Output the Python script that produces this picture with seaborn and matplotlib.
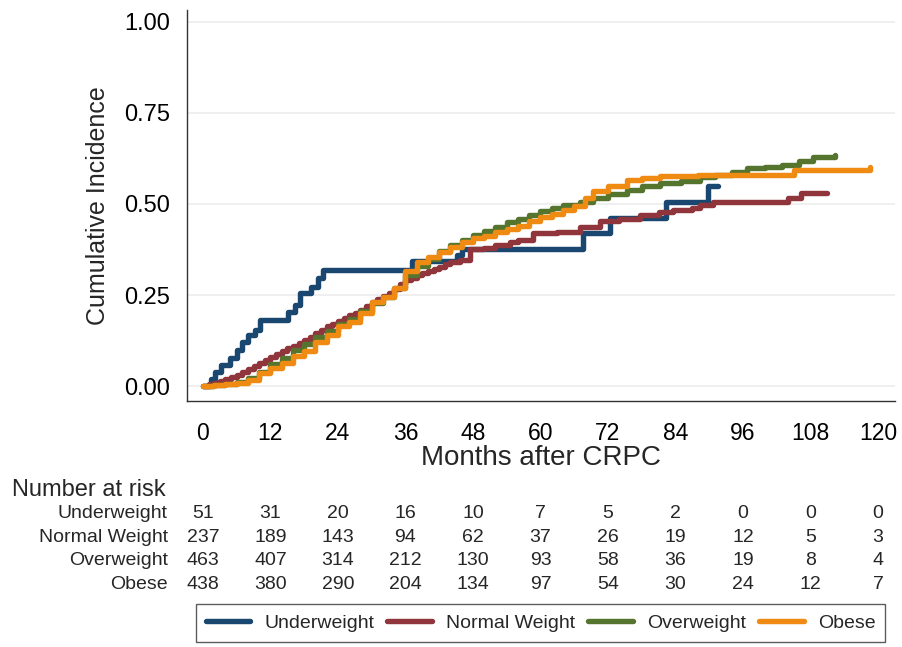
import numpy as np
import pandas as pd
import matplotlib
matplotlib.use("Agg")
import matplotlib.pyplot as plt
import matplotlib.transforms as mtransforms
import seaborn as sns

# Cumulative incidence step curves (months, value)
under_t = [0, 1.5, 2.1, 3.3, 4.8, 6.0, 6.9, 8.1, 9.2, 10.1, 15.2, 16.4, 17.2, 19.3, 20.5, 21.4,
           37.2, 45.2, 46.0, 67.6, 72.4, 82.4, 89.8, 91.5]
under_v = [0, 0.020, 0.039, 0.058, 0.076, 0.099, 0.122, 0.140, 0.154, 0.181, 0.204, 0.222, 0.255, 0.273, 0.296, 0.319,
           0.344, 0.360, 0.376, 0.421, 0.462, 0.506, 0.548, 0.548]

normal_t = [0, 1, 2, 3, 4, 5, 6, 7, 8, 9, 10, 11, 12, 13, 14, 15, 16, 17, 18, 19, 20, 21, 22, 23, 24,
            25, 26, 27, 28, 29, 30, 31, 32, 33, 34, 35, 36, 37, 38, 39, 40, 41, 42, 43, 44, 45.7, 47.5,
            50, 52, 54.6, 56, 58.7, 63, 67, 70.6, 74, 77.7, 81, 83.6, 87, 88.4, 90.7, 104, 106.4, 110.9]
normal_v = [0, 0.005, 0.010, 0.015, 0.020, 0.025, 0.030, 0.040, 0.048, 0.055, 0.065, 0.072, 0.080, 0.088, 0.097,
            0.104, 0.110, 0.118, 0.126, 0.135, 0.145, 0.155, 0.165, 0.172, 0.180, 0.188, 0.194, 0.200, 0.210,
            0.220, 0.230, 0.240, 0.248, 0.256, 0.268, 0.280, 0.291, 0.298, 0.305, 0.310, 0.315, 0.322, 0.328,
            0.336, 0.342, 0.346, 0.376, 0.380, 0.388, 0.396, 0.402, 0.420, 0.424, 0.438, 0.453, 0.460, 0.470,
            0.478, 0.484, 0.490, 0.497, 0.506, 0.516, 0.529, 0.529]

over_t = [0, 2, 4, 6, 8, 10, 12, 14, 16, 18, 20, 22, 24, 26, 28, 30, 32, 34, 36, 38, 40, 42, 44, 46, 48,
          50, 52, 54, 56, 58, 60, 62, 64, 67, 69.4, 72, 75.3, 78, 81.2, 85, 88.4, 91, 94, 96.7, 100, 103,
          106, 108.5, 112.4]
over_v = [0, 0.003, 0.006, 0.012, 0.022, 0.040, 0.062, 0.078, 0.100, 0.117, 0.135, 0.152, 0.170, 0.185, 0.205,
          0.228, 0.245, 0.270, 0.305, 0.330, 0.350, 0.370, 0.388, 0.402, 0.415, 0.425, 0.438, 0.450, 0.460,
          0.470, 0.480, 0.488, 0.497, 0.506, 0.515, 0.528, 0.538, 0.548, 0.557, 0.564, 0.575, 0.580, 0.587,
          0.598, 0.602, 0.606, 0.618, 0.630, 0.635]

obese_t = [0, 2, 4, 6, 8, 10, 12, 14, 16, 18, 20, 22, 24, 26, 28, 30, 32, 34, 36, 38, 40, 42, 44, 46, 48,
           50, 52, 54, 56, 58, 60, 62, 64, 66, 68, 69.4, 72, 75.3, 78, 81.2, 88, 105, 118.6]
obese_v = [0, 0.002, 0.005, 0.010, 0.018, 0.035, 0.050, 0.065, 0.082, 0.097, 0.120, 0.140, 0.165, 0.177, 0.200,
           0.230, 0.245, 0.270, 0.315, 0.340, 0.355, 0.368, 0.382, 0.395, 0.406, 0.412, 0.424, 0.432, 0.440,
           0.452, 0.465, 0.472, 0.483, 0.495, 0.515, 0.535, 0.548, 0.565, 0.572, 0.578, 0.580, 0.593, 0.602]

groups = ["Underweight", "Normal Weight", "Overweight", "Obese"]
colors = ["#1a476f", "#90353b", "#55752f", "#ef8a12"]

# Number at risk table
risk_times = [0, 12, 24, 36, 48, 60, 72, 84, 96, 108, 120]
risk_under = [51, 31, 20, 16, 10, 7, 5, 2, 0, 0, 0]
risk_normal = [237, 189, 143, 94, 62, 37, 26, 19, 12, 5, 3]
risk_over = [463, 407, 314, 212, 130, 93, 58, 36, 19, 8, 4]
risk_obese = [438, 380, 290, 204, 134, 97, 54, 30, 24, 12, 7]

y_ticks = [0.00, 0.25, 0.50, 0.75, 1.00]


def main():
    sns.set_theme(style="white")
    plt.rcParams["font.family"] = ["Liberation Sans", "DejaVu Sans"]

    curves = [(under_t, under_v), (normal_t, normal_v), (over_t, over_v), (obese_t, obese_v)]
    df = pd.concat(
        [pd.DataFrame({"month": t, "ci": v, "group": g}) for g, (t, v) in zip(groups, curves)],
        ignore_index=True,
    )

    fig = plt.figure(figsize=(9.03, 6.47), dpi=100)
    ax = fig.add_axes([0.207, 0.380, 0.784, 0.605])

    for y in y_ticks:
        ax.axhline(y, color="#ececec", lw=1.2, zorder=0)

    sns.lineplot(data=df, x="month", y="ci", hue="group", hue_order=groups,
                 palette=colors, estimator=None, sort=False, drawstyle="steps-post",
                 lw=3.9, solid_capstyle="round", legend=False, ax=ax)

    ax.set_xlim(-2.84, 123)
    ax.set_ylim(-0.041, 1.033)
    ax.set_xticks(risk_times)
    ax.set_yticks(y_ticks)
    ax.set_yticklabels([f"{y:.2f}" for y in y_ticks])
    ax.tick_params(axis="both", direction="out", length=5, width=1, color="#333333",
                   labelsize=17, labelcolor="black")
    ax.tick_params(axis="y", pad=7)
    ax.tick_params(axis="x", pad=10, labelsize=16.5)
    for s in ["top", "right"]:
        ax.spines[s].set_visible(False)
    for s in ["left", "bottom"]:
        ax.spines[s].set_color("#333333")
        ax.spines[s].set_linewidth(1)
    ax.set_xlabel("Months after CRPC", fontsize=20, labelpad=0)
    ax.set_ylabel("Cumulative Incidence", fontsize=18, labelpad=10)

    # number at risk table below the axis
    trans = mtransforms.blended_transform_factory(ax.transData, fig.transFigure)
    fig.text(12 / 903, 0.243, "Number at risk", fontsize=17, ha="left", va="center")
    rows = [risk_under, risk_normal, risk_over, risk_obese]
    row_y = [0.206, 0.170, 0.133, 0.097]
    for g, vals, y in zip(groups, rows, row_y):
        fig.text(168 / 903, y, g, fontsize=14, ha="right", va="center")
        for t, n in zip(risk_times, vals):
            ax.text(t, y, str(n), transform=trans, fontsize=14, ha="center", va="center",
                    clip_on=False)

    handles = [plt.Line2D([0], [0], color=c, lw=3.9) for c in colors]
    leg = fig.legend(handles, groups, loc="center", bbox_to_anchor=(0.5986, 0.0371), ncol=4,
                     fontsize=14, frameon=True, fancybox=False, edgecolor="#333333",
                     handlelength=2.3, columnspacing=0.67, handletextpad=0.72,
                     borderpad=0.5)
    leg.get_frame().set_linewidth(1)

    fig.savefig("out.png", dpi=100, facecolor="white")


if __name__ == "__main__":
    main()
